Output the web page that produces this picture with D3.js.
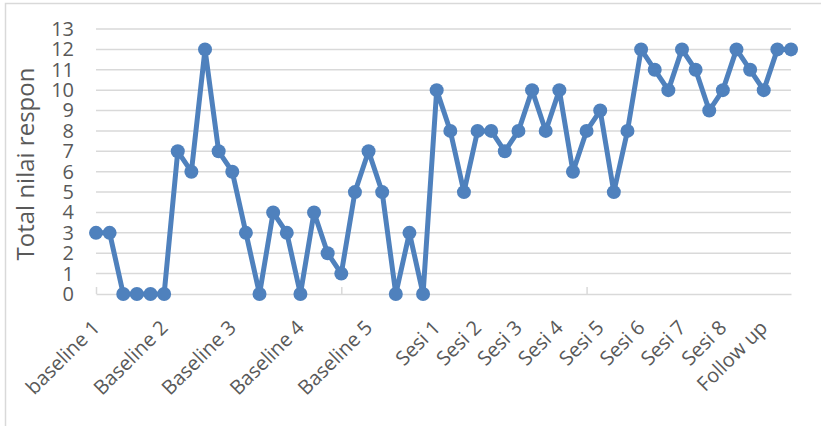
<!DOCTYPE html>
<html>
<head>
<meta charset="utf-8">
<script src="https://cdn.jsdelivr.net/npm/d3@7"></script>
<style>
  body { margin: 0; background: #fff; }
  svg text { font-family: "Open Sans", sans-serif; fill: #595959; }
</style>
</head>
<body>
<div id="chart"></div>
<script>
// one entry per measurement, only the first of each phase is labelled
var categories = [
  "baseline 1", "", "", "", "",
  "Baseline 2", "", "", "", "",
  "Baseline 3", "", "", "", "",
  "Baseline 4", "", "", "", "",
  "Baseline 5", "", "", "", "",
  "Sesi 1", "", "",
  "Sesi 2", "", "",
  "Sesi 3", "", "",
  "Sesi 4", "", "",
  "Sesi 5", "", "",
  "Sesi 6", "", "",
  "Sesi 7", "", "",
  "Sesi 8", "", "",
  "Follow up", "", ""
];
var values = [
  3, 3, 0, 0, 0, 0, 7, 6, 12, 7, 6, 3, 0, 4, 3, 0, 4, 2, 1, 5, 7, 5, 0, 3, 0,
  10, 8, 5, 8, 8, 7, 8, 10, 8, 10, 6, 8, 9, 5, 8, 12, 11, 10, 12, 11, 9, 10, 12, 11, 10, 12, 12
];
var yTicks = d3.range(0, 14);
var tickEvery = 18; // excel puts a tick mark every 18 categories here
var yTitle = "Total nilai respon";

var W = 821, H = 426;
var svg = d3.select("#chart").append("svg")
    .attr("width", W)
    .attr("height", H);

// chart border (cut off at right and bottom like the screenshot)
svg.append("rect")
    .attr("x", 5.5).attr("y", 3.5)
    .attr("width", W).attr("height", H)
    .attr("fill", "none")
    .attr("stroke", "#d9d9d9")
    .attr("stroke-width", 1.5);

var x = d3.scalePoint()
    .domain(d3.range(categories.length))
    .range([96, 791]);
var y = d3.scaleLinear()
    .domain([0, 13])
    .range([294, 29]);

// gridlines
svg.append("g")
    .selectAll("line")
    .data(yTicks.filter(function(d) { return d > 0; }))
    .enter().append("line")
    .attr("x1", 96).attr("x2", 791)
    .attr("y1", function(d) { return y(d); })
    .attr("y2", function(d) { return y(d); })
    .attr("stroke", "#d9d9d9")
    .attr("stroke-width", 1.5);

// y axis labels
var yAxis = svg.append("g")
    .attr("transform", "translate(74,0)")
    .call(d3.axisLeft(y).tickValues(yTicks).tickSize(0).tickPadding(0));
yAxis.select(".domain").remove();
yAxis.selectAll("text")
    .style("font-size", "20px")
    .attr("fill", "#595959")
    .style("font-family", "'Open Sans', sans-serif");

// x axis: line, tick marks pointing up, rotated labels
var xAxis = svg.append("g")
    .attr("transform", "translate(0," + y(0) + ")")
    .call(d3.axisBottom(x)
      .tickValues(d3.range(0, categories.length, tickEvery))
      .tickSize(-7)
      .tickSizeOuter(0)
      .tickFormat(""));
xAxis.select(".domain").attr("stroke", "#d9d9d9").attr("stroke-width", 1.5);
xAxis.selectAll(".tick line").attr("stroke", "#d9d9d9").attr("stroke-width", 1.5);

svg.append("g")
    .selectAll("text")
    .data(categories.map(function(c, i) { return {c: c, i: i}; }).filter(function(d) { return d.c; }))
    .enter().append("text")
    .attr("transform", function(d) { return "translate(" + (x(d.i) + 5) + ",329) rotate(-45)"; })
    .attr("text-anchor", "end")
    .style("font-size", "20px")
    .text(function(d) { return d.c; });

// y title
svg.append("text")
    .attr("transform", "translate(34,164) rotate(-90)")
    .attr("text-anchor", "middle")
    .style("font-size", "24px")
    .text(yTitle);

// series
var line = d3.line()
    .x(function(d, i) { return x(i); })
    .y(function(d) { return y(d); });

svg.append("path")
    .datum(values)
    .attr("d", line)
    .attr("fill", "none")
    .attr("stroke", "#4f81bd")
    .attr("stroke-width", 5)
    .attr("stroke-linejoin", "round");

svg.append("g")
    .selectAll("circle")
    .data(values)
    .enter().append("circle")
    .attr("cx", function(d, i) { return x(i); })
    .attr("cy", function(d) { return y(d); })
    .attr("r", 7)
    .attr("fill", "#4f81bd");
</script>
</body>
</html>
